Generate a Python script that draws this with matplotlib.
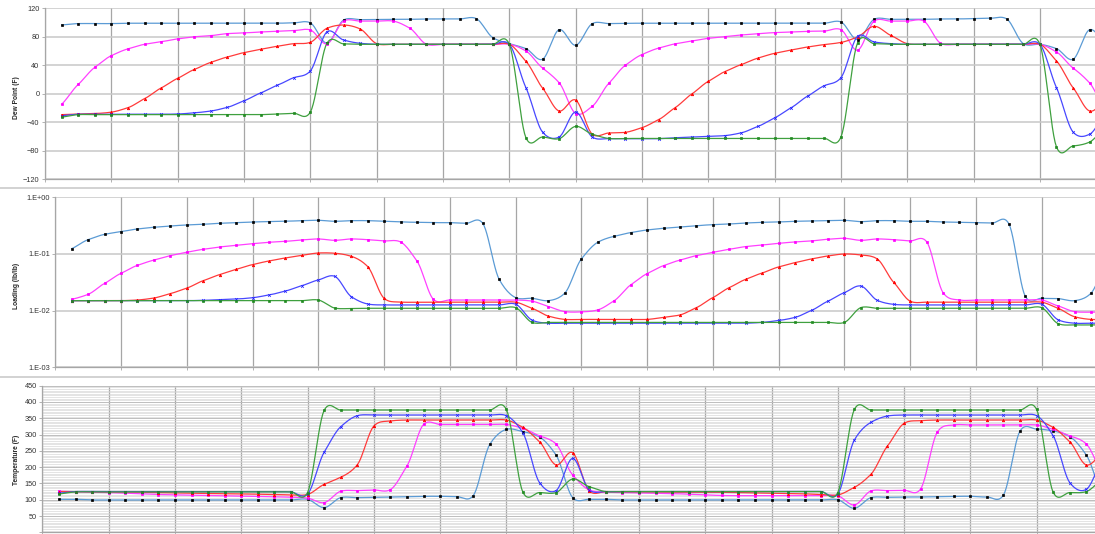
# Три панели: точка росы, загрузка адсорбента и температура по циклам
import numpy as np
import matplotlib
matplotlib.use('Agg')
import matplotlib.pyplot as plt
from matplotlib.lines import Line2D
from matplotlib.ticker import MultipleLocator, NullLocator

plt.rcParams['font.family'] = ['Liberation Sans', 'DejaVu Sans']

steps = np.arange(64)

# точка росы, F
dp_black = [96.6, 98.5, 98.5, 98.5, 99, 99, 99, 99, 99, 99, 99, 99, 99, 99, 99.5, 99.5,
            71, 103.5, 104, 104, 104.5, 104.5, 105, 105, 105, 105.6, 78.8, 70.3, 63.3, 48.3, 90, 68,
            98.5, 98.5, 99, 99, 99, 99, 99, 99, 99, 99, 99, 99, 99, 99, 99, 100.8,
            76, 104.5, 104.5, 104.5, 104.5, 105, 105, 105.5, 106, 105, 70.3, 69.4, 63.3, 48.3, 90, 68]
dp_mag = [-15, 13, 37, 53.5, 63, 69.4, 73, 77, 80, 81.6, 84.4, 85.3, 86.7, 87.7, 88.6, 89.5,
          70, 102, 102, 102, 102, 92, 69.4, 69.4, 69.4, 69.4, 69.4, 69.4, 60, 36, 15.5, -28,
          -17.8, 14.5, 40, 55, 64, 70, 74, 77.8, 80, 82.5, 84.4, 85.8, 86.7, 87.7, 88, 90,
          61, 102, 102, 102, 102, 71, 69.4, 69.4, 69.4, 69.4, 69.4, 69.4, 58.6, 36, 15, -28]
dp_red = [-29.5, -28.6, -28, -26, -19.7, -7, 8, 21.6, 34, 44, 51.6, 57.7, 62.4, 66.6, 70.3, 72.2,
          91.9, 96.5, 91, 70.3, 69.4, 69.4, 69.4, 69.4, 69.4, 69.4, 69.4, 69.4, 45.5, 8, -24.4, -9,
          -57, -55.3, -54.4, -47.8, -36.6, -19.7, -0.5, 17.3, 31, 41, 50, 56.7, 61.4, 65.6, 69, 72,
          79.7, 94.7, 82, 70.3, 69.4, 69.4, 69.4, 69.4, 69.4, 69.4, 69.4, 69.4, 46, 8.4, -24.4, -9]
dp_blue = [-31, -29, -29, -29, -29, -29, -29, -28.6, -27, -24.4, -19.2, -10, 1, 11.7, 22.5, 32,
           87, 75.4, 70.8, 69.4, 69.4, 69.4, 69.4, 69.4, 69.4, 69.4, 69.4, 69.4, 8.4, -54, -61, -25.8,
           -61, -63.3, -63.3, -63.3, -63.3, -62, -61, -60, -59, -55, -46, -34, -19.7, -3.3, 11.3, 22.5,
           80.6, 72.7, 70.3, 69.4, 69.4, 69.4, 69.4, 69.4, 69.4, 69.4, 69.4, 69.4, 8.4, -54, -57, -25.8]
dp_green = [-33, -29.5, -29.5, -29.5, -29.5, -29.5, -29.5, -29.5, -29.5, -29.5, -29.5, -29.5, -29.5, -28.6, -27.7, -25.8,
            71, 70, 69.4, 69.4, 69.4, 69.4, 69.4, 69.4, 69.4, 69.4, 69.4, 69.4, -62, -61, -63.3, -46,
            -57, -63, -63, -63, -63, -63, -63, -63, -63, -63, -63, -63, -63, -63, -63, -61,
            71.3, 70.3, 69.4, 69.4, 69.4, 69.4, 69.4, 69.4, 69.4, 69.4, 69.4, 69.4, -75, -73.6, -68, -46]

# загрузка, lb/lb
ld_black = [0.124, 0.179, 0.222, 0.248, 0.276, 0.296, 0.312, 0.325, 0.334, 0.348, 0.357, 0.367, 0.372, 0.377, 0.387, 0.393,
            0.377, 0.387, 0.387, 0.377, 0.367, 0.362, 0.357, 0.357, 0.348, 0.348, 0.0357, 0.017, 0.0165, 0.015, 0.0205, 0.0816,
            0.161, 0.205, 0.238, 0.265, 0.284, 0.3, 0.316, 0.329, 0.338, 0.352, 0.362, 0.367, 0.377, 0.382, 0.387, 0.393,
            0.372, 0.387, 0.387, 0.377, 0.377, 0.367, 0.362, 0.357, 0.352, 0.343, 0.018, 0.0165, 0.0163, 0.015, 0.0203, 0.08]
ld_mag = [0.0158, 0.0194, 0.0303, 0.0456, 0.063, 0.078, 0.0935, 0.107, 0.121, 0.133, 0.142, 0.152, 0.161, 0.167, 0.177, 0.184,
          0.174, 0.184, 0.179, 0.17, 0.163, 0.075, 0.0158, 0.0154, 0.0154, 0.0154, 0.0154, 0.0154, 0.0147, 0.0118, 0.0096, 0.0095,
          0.0103, 0.015, 0.0284, 0.045, 0.0622, 0.078, 0.0935, 0.107, 0.121, 0.135, 0.144, 0.154, 0.163, 0.17, 0.182, 0.189,
          0.174, 0.184, 0.179, 0.17, 0.165, 0.0208, 0.0154, 0.0154, 0.0154, 0.0154, 0.0154, 0.0154, 0.0121, 0.0096, 0.0094, 0.0095]
ld_red = [0.015, 0.015, 0.015, 0.015, 0.0154, 0.0167, 0.02, 0.025, 0.0338, 0.0432, 0.0536, 0.0649, 0.0752, 0.085, 0.0947, 0.104,
          0.103, 0.091, 0.06, 0.0165, 0.0142, 0.0141, 0.0141, 0.0141, 0.0141, 0.0141, 0.0141, 0.0141, 0.011, 0.008, 0.007, 0.007,
          0.007, 0.007, 0.007, 0.007, 0.0076, 0.0084, 0.0113, 0.017, 0.0255, 0.0357, 0.0462, 0.059, 0.0703, 0.0816, 0.0922, 0.1,
          0.096, 0.0816, 0.0316, 0.0147, 0.0141, 0.0141, 0.0141, 0.0141, 0.0141, 0.0141, 0.0141, 0.0141, 0.011, 0.0078, 0.007, 0.007]
ld_blue = [0.015, 0.015, 0.015, 0.015, 0.015, 0.015, 0.015, 0.015, 0.0152, 0.0156, 0.016, 0.0169, 0.0189, 0.0222, 0.0276, 0.0348,
           0.0403, 0.0177, 0.0131, 0.0126, 0.0126, 0.0126, 0.0126, 0.0126, 0.0126, 0.0126, 0.0126, 0.013, 0.0068, 0.006, 0.006, 0.006,
           0.006, 0.006, 0.006, 0.006, 0.006, 0.006, 0.006, 0.006, 0.006, 0.006, 0.0062, 0.0067, 0.0076, 0.0101, 0.0147, 0.0208,
           0.0272, 0.0152, 0.0129, 0.0126, 0.0126, 0.0126, 0.0126, 0.0126, 0.0126, 0.0126, 0.0126, 0.013, 0.0069, 0.006, 0.006, 0.006]
ld_green = [0.015, 0.015, 0.015, 0.015, 0.015, 0.015, 0.015, 0.015, 0.015, 0.015, 0.015, 0.015, 0.015, 0.015, 0.015, 0.0154,
            0.0111, 0.0109, 0.011, 0.011, 0.011, 0.011, 0.011, 0.011, 0.011, 0.011, 0.011, 0.0113, 0.0062, 0.0062, 0.0062, 0.0062,
            0.0062, 0.0062, 0.0062, 0.0062, 0.0062, 0.0062, 0.0062, 0.0062, 0.0062, 0.0062, 0.0062, 0.0062, 0.0062, 0.0062, 0.0062, 0.0062,
            0.0113, 0.011, 0.011, 0.011, 0.011, 0.011, 0.011, 0.011, 0.011, 0.011, 0.011, 0.0113, 0.0059, 0.0056, 0.0056, 0.0056]

# температура, F
tp_black = [101.3, 101.3, 99.3, 99.3, 99.3, 99.3, 99.3, 99.3, 99.3, 99.3, 99.3, 99.3, 99.3, 99.3, 99.3, 101.3,
            75.7, 106.4, 106.4, 107.4, 108.4, 109.5, 110.5, 110.5, 109.5, 112.5, 270, 316, 309, 292.5, 237, 106.4,
            101.3, 101.3, 99.3, 99.3, 99.3, 99.3, 99.3, 99.3, 99.3, 99.3, 99.3, 99.3, 99.3, 99.3, 99.3, 100,
            73.7, 106.4, 107.4, 108.4, 108.4, 109.5, 110.5, 110.5, 108.4, 114.6, 311, 317, 311, 293.6, 237, 106.4]
tp_mag = [126, 124, 123, 122, 120, 118, 116, 115, 114, 113, 112, 111, 110, 109, 108, 105,
          91, 126, 128, 130, 131, 203.6, 331, 331, 331, 331, 331, 331, 319, 296, 271, 176,
          130, 123, 122, 121, 120, 119, 117, 115, 113, 112.5, 112.5, 112.5, 112.5, 112.5, 112.5, 112,
          84, 127, 128, 129, 133, 307, 329.5, 329.5, 329.5, 329.5, 329.5, 329.5, 316, 296, 271, 176]
tp_red = [125, 125, 124.5, 124, 123.5, 123, 122, 121, 120, 119, 118.5, 118, 117, 116, 115, 116,
          147, 169, 207, 326, 341.6, 344.7, 344.7, 344.7, 344.7, 344.7, 344.7, 344.7, 322, 278, 206.7, 244.4,
          126.8, 125, 124.5, 124, 123.5, 123, 123, 122.8, 122.8, 122, 121, 120, 119, 118, 116, 114.6,
          138, 178, 265, 334.5, 342.6, 344.7, 344.7, 344.7, 344.7, 344.7, 344.7, 344.7, 322, 278, 206.7, 244.4]
tp_blue = [120, 125, 125, 125, 125, 125, 125, 125, 125, 125, 125, 125, 125, 125, 124, 117,
           245.5, 324, 358, 360, 360, 360, 360, 360, 360, 360, 360, 358, 305, 152.5, 128, 227,
           130, 125, 125, 125, 125, 125, 125, 125, 125, 125, 125, 125, 125, 125, 125, 117,
           283.3, 337.5, 357, 360, 360, 360, 360, 360, 360, 360, 360, 358, 296, 152.5, 132, 227]
tp_green = [117.7, 124, 124, 124, 124, 124, 124, 124, 124, 124, 124, 124, 124, 124, 124, 122,
            374, 375.4, 375.4, 375.4, 375.4, 375.4, 375.4, 375.4, 375.4, 375.4, 375.4, 377, 122.8, 122, 122, 163.7,
            140, 125, 125, 125, 125, 125, 125, 125, 125, 125, 125, 125, 125, 125, 125, 122,
            377, 375.4, 375.4, 375.4, 375.4, 375.4, 375.4, 375.4, 375.4, 375.4, 375.4, 377, 122.8, 122, 125, 164]

# цвет линии, маркер, цвет маркера, размер маркера
styles = [
    ('#5B9BD5', 's', 'black', 1.5),
    ('#FF40FF', 's', '#FF00FF', 1.5),
    ('#FF3B3B', '^', '#FF0000', 1.8),
    ('#4848FF', 'x', '#2020FF', 2.0),
    ('#3FA03F', 's', '#228B22', 1.5),
]


def smooth(y, log=False, n=12, k=0.8):
    # сглаженная линия как в Excel (Catmull-Rom с натяжением)
    y = np.asarray(y, float)
    if log:
        y = np.log10(y)
    p = np.concatenate([[2 * y[0] - y[1]], y, [2 * y[-1] - y[-2]]])
    m = k * (p[2:] - p[:-2]) / 2
    t = np.linspace(0, 1, n, endpoint=False)[:, None]
    h00 = 2 * t**3 - 3 * t**2 + 1
    h10 = t**3 - 2 * t**2 + t
    h01 = -2 * t**3 + 3 * t**2
    h11 = t**3 - t**2
    seg = h00 * y[:-1] + h10 * m[:-1] + h01 * y[1:] + h11 * m[1:]
    xs = (np.arange(len(y) - 1) + t).T.ravel()
    ys = seg.T.ravel()
    xs = np.append(xs, len(y) - 1)
    ys = np.append(ys, y[-1])
    return xs, (10**ys if log else ys)


W, H = 1095, 534
fig = plt.figure(figsize=(W / 100, H / 100), dpi=100)


def make_axes(left_px, top_px, bottom_px, x0_px, dx_px):
    ax = fig.add_axes([left_px / W, 1 - bottom_px / H, 1 - left_px / W, (bottom_px - top_px) / H])
    ax.set_xlim(-1, (W - x0_px) / dx_px)
    ax.set_xticks(np.arange(-1, 63, 4))
    ax.tick_params(axis='x', labelbottom=False, length=2.5, width=0.6, color='#A6A6A6')
    ax.tick_params(axis='y', labelsize=5.3, labelcolor='#333333', length=2.5, width=0.6,
                   color='#A6A6A6', pad=1.5)
    ax.grid(axis='x', color='#A6A6A6', lw=0.9)
    ax.set_axisbelow(True)
    for s in ['top', 'right']:
        ax.spines[s].set_visible(False)
    for s in ['left', 'bottom']:
        ax.spines[s].set_color('#A6A6A6')
        ax.spines[s].set_linewidth(0.9)
    return ax


def draw(ax, series, log=False):
    for y, (lc, mk, mc, ms) in zip(series, styles):
        xs, ys = smooth(y, log=log)
        ax.plot(xs, ys, color=lc, lw=0.9, zorder=3)
        ax.plot(steps, y, ls='none', marker=mk, ms=ms, color=mc, mec=mc, mew=0.5, zorder=4)


# Панель 1 - точка росы
ax1 = make_axes(45.1, 8.3, 179, 61.7, 16.58)
draw(ax1, [dp_black, dp_mag, dp_red, dp_blue, dp_green])
ax1.set_ylim(-120, 120)
ax1.set_yticks(np.arange(-120, 121, 40))
ax1.grid(axis='y', color='#C8C8C8', lw=1.1)

# Панель 2 - загрузка (лог. шкала)
ax2 = make_axes(55.3, 197.3, 367.3, 71.7, 16.44)
draw(ax2, [ld_black, ld_mag, ld_red, ld_blue, ld_green], log=True)
ax2.set_yscale('log')
ax2.set_ylim(1e-3, 1)
ax2.set_yticks([1e-3, 1e-2, 1e-1, 1])
ax2.set_yticklabels(['1.E-03', '1.E-02', '1.E-01', '1.E+00'])
ax2.yaxis.set_minor_locator(NullLocator())
ax2.grid(axis='y', color='#C8C8C8', lw=1.1)

# Панель 3 - температура
ax3 = make_axes(42.4, 385.7, 532.3, 59, 16.57)
draw(ax3, [tp_black, tp_mag, tp_red, tp_blue, tp_green])
ax3.set_ylim(0, 450)
ax3.set_yticks(np.arange(0, 451, 50))
ax3.set_yticklabels([''] + [str(v) for v in range(50, 451, 50)])
ax3.yaxis.set_minor_locator(MultipleLocator(5))
ax3.tick_params(axis='y', which='minor', length=0)
ax3.grid(axis='y', which='minor', color='#D4D4D4', lw=0.45)
ax3.grid(axis='y', which='major', color='#BDBDBD', lw=0.7)

# подписи осей
for label, yc in [('Dew Point (F)', 97.7), ('Loading (lb/lb)', 285.7), ('Temperature (F)', 459.7)]:
    fig.text(16 / W, 1 - yc / H, label, rotation=90, ha='center', va='center',
             fontsize=4.8, fontweight='bold', color='#262626')

# рамки между графиками
for ypx in [187.5, 377]:
    fig.add_artist(Line2D([0, 1], [1 - ypx / H, 1 - ypx / H], transform=fig.transFigure,
                          color='#CFCFCF', lw=1.3))

fig.savefig('out.png', dpi=100)
